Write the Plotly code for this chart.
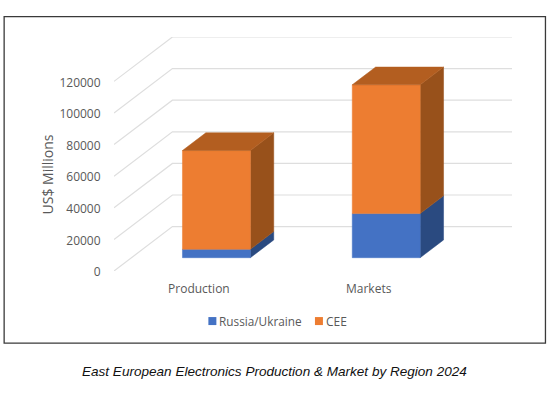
import plotly.graph_objects as go

categories = ["Production", "Markets"]
russia_ukraine = [5300, 27900]
cee = [62500, 81500]
y_ticks = [0, 20000, 40000, 60000, 80000, 100000, 120000]

W, H = 550, 394
PLOT_L, PLOT_R, PLOT_T, PLOT_B = 113.5, 512.0, 37.3, 271.0
DEPTH_X = 0.344      # category units moved by the full floor depth
DEPTH_Y = 28085      # value units moved by the full floor depth
BAR_W = 0.4
BAR_D0, BAR_D1 = 0.3, 0.7

BLUE, BLUE_SIDE = "#4472C4", "#2A4A80"
ORANGE, ORANGE_SIDE, ORANGE_TOP = "#ED7D31", "#98511B", "#B35E20"
GRID = "#DEDEDE"
TEXT = "#595959"
FONT = "Open Sans"


def px(x):
    return (x - PLOT_L) / (PLOT_R - PLOT_L)


def py(y):
    return (PLOT_B - y) / (PLOT_B - PLOT_T)


def proj(x, v, d):
    return x + d * DEPTH_X, v + d * DEPTH_Y


def poly(pts, color, name):
    xs = [p[0] for p in pts] + [pts[0][0]]
    ys = [p[1] for p in pts] + [pts[0][1]]
    return go.Scatter(x=xs, y=ys, mode="lines", fill="toself", fillcolor=color,
                      line=dict(color=color, width=0.5), showlegend=False,
                      hoverinfo="skip", name=name, cliponaxis=False)


fig = go.Figure()

# Gridlines on the side and back walls
x_lo, x_hi = -0.5, 1.5
for t in y_ticks:
    a = proj(x_lo, t, 0)
    b = proj(x_lo, t, 1)
    c = proj(x_hi, t, 1)
    fig.add_trace(go.Scatter(x=[a[0], b[0], c[0]], y=[a[1], b[1], c[1]], mode="lines",
                             line=dict(color=GRID, width=1.2), showlegend=False,
                             hoverinfo="skip", cliponaxis=False))

# Bars as oblique boxes
for i, cat in enumerate(categories):
    l, r = i - BAR_W / 2, i + BAR_W / 2
    v0, v1, v2 = 0, russia_ukraine[i], russia_ukraine[i] + cee[i]
    for lo, hi, side, front, name in [(v0, v1, BLUE_SIDE, BLUE, "Russia/Ukraine"),
                                      (v1, v2, ORANGE_SIDE, ORANGE, "CEE")]:
        fig.add_trace(poly([proj(r, lo, BAR_D0), proj(r, lo, BAR_D1),
                            proj(r, hi, BAR_D1), proj(r, hi, BAR_D0)], side, name))
        fig.add_trace(poly([proj(l, lo, BAR_D0), proj(r, lo, BAR_D0),
                            proj(r, hi, BAR_D0), proj(l, hi, BAR_D0)], front, name))
    fig.add_trace(poly([proj(l, v2, BAR_D0), proj(r, v2, BAR_D0),
                        proj(r, v2, BAR_D1), proj(l, v2, BAR_D1)], ORANGE_TOP, "CEE"))

shapes = [dict(type="rect", xref="paper", yref="paper", x0=px(3.5), x1=px(545.5),
               y0=py(343), y1=py(17), line=dict(color="#3A3A3A", width=1.3),
               fillcolor="rgba(0,0,0,0)", layer="below")]
for x0, color in [(208, BLUE), (314.7, ORANGE)]:
    shapes.append(dict(type="rect", xref="paper", yref="paper", x0=px(x0), x1=px(x0 + 8),
                       y0=py(325), y1=py(317), line=dict(width=0), fillcolor=color))

annotations = [
    dict(text="US$ Millions", xref="paper", yref="paper", x=px(47), y=py(175), textangle=-90,
         showarrow=False, xanchor="center", yanchor="middle", font=dict(family=FONT, size=14, color=TEXT)),
    dict(text="Russia/Ukraine", xref="paper", yref="paper", x=px(218), y=py(321), showarrow=False,
         xanchor="left", yanchor="middle", borderpad=0, font=dict(family=FONT, size=11.8, color=TEXT)),
    dict(text="CEE", xref="paper", yref="paper", x=px(325), y=py(321), showarrow=False,
         xanchor="left", yanchor="middle", borderpad=0, font=dict(family=FONT, size=12, color=TEXT)),
    dict(text="<i>East European Electronics Production &amp; Market by Region 2024</i>", xref="paper", yref="paper",
         x=px(274.5), y=py(371.5), showarrow=False, xanchor="center", yanchor="middle",
         font=dict(family="Liberation Sans", size=13.55, color="#111111")),
]

fig.update_layout(
    width=W, height=H, autosize=False,
    margin=dict(l=PLOT_L, r=W - PLOT_R, t=PLOT_T, b=H - PLOT_B, autoexpand=False),
    paper_bgcolor="white", plot_bgcolor="white", showlegend=False,
    shapes=shapes, annotations=annotations, font=dict(family=FONT, size=12, color=TEXT),
    xaxis=dict(range=[x_lo, x_hi + DEPTH_X], tickmode="array", tickvals=list(range(len(categories))),
               ticktext=categories, showgrid=False, zeroline=False, showline=False,
               ticks="outside", ticklen=7, tickcolor="rgba(0,0,0,0)", tickfont=dict(family=FONT, size=12, color=TEXT)),
    yaxis=dict(range=[0, y_ticks[-1] + DEPTH_Y], tickmode="array", tickvals=y_ticks,
               ticktext=[str(t) for t in y_ticks], showgrid=False, zeroline=False, showline=False,
               ticks="outside", ticklen=10, tickcolor="rgba(0,0,0,0)", ticklabelshift=1,
               tickfont=dict(family=FONT, size=12, color=TEXT)),
)

fig.write_html("out.html", config=dict(displayModeBar=False),
               post_script="document.body.style.margin='0';document.documentElement.style.overflow='hidden';")
